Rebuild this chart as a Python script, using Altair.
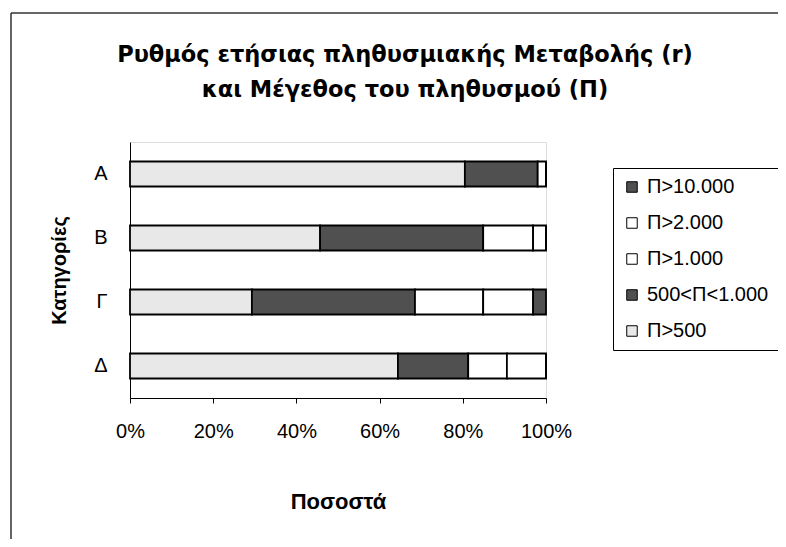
import altair as alt
import pandas as pd

categories = ["A", "B", "Γ", "Δ"]
series = ["Π>500", "500<Π<1.000", "Π>1.000", "Π>2.000", "Π>10.000"]
share_p500 = [80.5, 45.7, 29.3, 64.4]
share_500_1000 = [17.5, 39.2, 39.2, 16.9]
share_p1000 = [2.0, 12.0, 16.4, 9.3]
share_p2000 = [0.0, 3.1, 12.0, 9.4]
share_p10000 = [0.0, 0.0, 3.1, 0.0]
series_values = [share_p500, share_500_1000, share_p1000, share_p2000, share_p10000]
series_colors = ["#e8e8e8", "#505050", "#ffffff", "#ffffff", "#505050"]
x_ticks = [0, 0.2, 0.4, 0.6, 0.8, 1.0]

rows = []
for si, (s, vals) in enumerate(zip(series, series_values)):
    for c, v in zip(categories, vals):
        rows.append({"cat": c, "series": s, "value": v, "ord": si})
df = pd.DataFrame(rows)

legend_order = series[::-1]
color_order = series_colors[::-1]

FONT = "Liberation Sans"

bars = alt.Chart(df).mark_bar(stroke="black", strokeWidth=1.8, size=25).encode(
    y=alt.Y("cat:N", sort=categories, title="Κατηγορίες",
            axis=alt.Axis(ticks=False, labelPadding=23, titlePadding=24,
                          labelFontSize=20, titleFontSize=20, titleFontWeight="bold",
                          labelFont=FONT, titleFont=FONT, labelColor="black",
                          titleColor="black", domainColor="black", labelAngle=0)),
    x=alt.X("value:Q", stack="normalize", title="Ποσοστά",
            scale=alt.Scale(domain=[0, 1], nice=False),
            axis=alt.Axis(values=x_ticks, format="%", grid=False, tickSize=5,
                          tickColor="black", domainColor="black", labelPadding=18,
                          titlePadding=50, labelFontSize=20, titleFontSize=22,
                          titleFontWeight="bold", labelFont=FONT, titleFont=FONT,
                          labelColor="black", titleColor="black", labelFlush=False)),
    color=alt.Color("series:N", scale=alt.Scale(domain=legend_order, range=color_order),
                    legend=alt.Legend(title=None, orient="none", legendX=483, legendY=26,
                                      padding=9, strokeColor="black", fillColor="white",
                                      labelFontSize=20, labelFont=FONT, labelColor="black",
                                      symbolType="square", symbolSize=110,
                                      symbolStrokeColor="black", symbolStrokeWidth=1,
                                      rowPadding=16, labelOffset=5)),
    order=alt.Order("ord:Q", sort="ascending"),
)

frame_data = alt.Data(values=[{"k": 0}])
left_line = alt.Chart(frame_data).mark_rule(color="#333333", strokeWidth=1.5).encode(
    x=alt.value(-119), y=alt.value(-129), y2=alt.value(420))
top_line = alt.Chart(frame_data).mark_rule(color="#333333", strokeWidth=1.5).encode(
    x=alt.value(-119), x2=alt.value(700), y=alt.value(-129))

chart = alt.layer(bars, left_line, top_line).properties(
    width=416, height=256,
    padding={"left": 122, "top": 134, "right": 232, "bottom": 141},
    autosize=alt.AutoSizeParams(type="none"),
    title=alt.TitleParams(
        ["Ρυθμός ετήσιας πληθυσμιακής Μεταβολής (r)", "και Μέγεθος του πληθυσμού (Π)"],
        font="DejaVu Sans", fontSize=22.5, fontWeight="bold", color="black",
        anchor="middle", align="center", dx=67, offset=-89, lineHeight=35),
).configure_view(stroke="black", strokeWidth=1.8).configure(background="white")

chart.save("out.html", embed_options={"renderer": "svg", "actions": False})
